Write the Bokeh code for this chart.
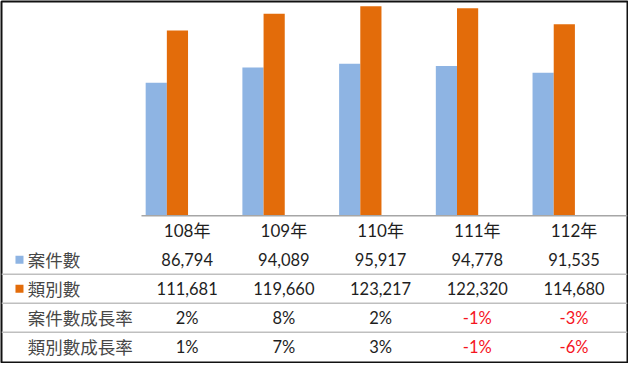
from bokeh.plotting import figure
from bokeh.models import ColumnDataSource, Range1d, Span
from bokeh.transform import dodge
from bokeh.core.properties import value
from bokeh.embed import file_html
from bokeh.resources import INLINE

# ---- data ----
years = ["108年", "109年", "110年", "111年", "112年"]
cases = [86794, 94089, 95917, 94778, 91535]
types = [111681, 119660, 123217, 122320, 114680]
growth_cases = [2, 8, 2, -1, -3]
growth_types = [1, 7, 3, -1, -6]
row_labels = ["案件數", "類別數", "案件數成長率", "類別數成長率"]

# ---- style ----
BLUE = "#8EB4E3"
ORANGE = "#E36C0A"
RED = "#F5141E"
TEXT = "#1E1E1E"
LABEL = "#474747"
GRID = "#BFBFBF"
NUM_FONT = value("Lato, 'Noto Sans CJK TC'")
CJK_FONT = value("'Noto Sans CJK TC'")
W, H = 628, 363

# layout (in reference-pixel terms, converted to data units)
UNIT = 99.5          # px per year column
COL0 = 191.0         # px centre of first column
ROW0 = 240.5         # px centre of header row
ROWH = 30.5          # px per table row
REF_W, REF_H = 644, 379
AXIS_MIN = 23534     # value at bar baseline
PX_PER_VAL = 0.002207
TOP_VAL_PX = 5.0

x_start = -COL0 / UNIT
x_end = (REF_W - COL0) / UNIT
row_top = -ROW0 / ROWH
row_bot = (REF_H - ROW0) / ROWH
vmax = max(types)
bar_end = vmax + TOP_VAL_PX / PX_PER_VAL
bar_start = vmax - (REF_H - TOP_VAL_PX) / PX_PER_VAL

p = figure(width=W, height=H, output_backend="svg", toolbar_location=None,
           x_range=Range1d(x_start, x_end),
           y_range=Range1d(row_bot, row_top),
           min_border=1)
p.extra_y_ranges = {"bars": Range1d(bar_start, bar_end)}
p.axis.visible = False
p.grid.visible = False
p.outline_line_color = "#111111"
p.outline_line_width = 2
p.background_fill_color = "white"

idx = list(range(len(years)))
src = ColumnDataSource(dict(x=idx, cases=cases, types=types,
                            base=[AXIS_MIN] * len(years)))
GROUP_SHIFT = -0.21
BW = 0.219
p.vbar(x=dodge("x", GROUP_SHIFT - BW / 2), top="cases", bottom="base", width=BW,
       source=src, y_range_name="bars", fill_color=BLUE, line_color=None)
p.vbar(x=dodge("x", GROUP_SHIFT + BW / 2), top="types", bottom="base", width=BW,
       source=src, y_range_name="bars", fill_color=ORANGE, line_color=None)

# baseline
p.segment(x0=[(144 - COL0) / UNIT], x1=[x_end], y0=[AXIS_MIN], y1=[AXIS_MIN],
          y_range_name="bars", line_color="#A6A6A6", line_width=1.5)

# row separators
for r in range(2, len(row_labels) + 1):
    p.add_layout(Span(location=r - 0.5, dimension="width", line_color=GRID,
                      line_width=1.5))

# header row
p.text(x=idx, y=[0] * len(years), text=years, text_font=NUM_FONT,
       text_font_size="17px", text_color=TEXT, text_align="center",
       text_baseline="middle")

rows = [
    [f"{v:,}" for v in cases],
    [f"{v:,}" for v in types],
    [f"{v}%" for v in growth_cases],
    [f"{v}%" for v in growth_types],
]
row_vals = [cases, types, growth_cases, growth_types]
for r, (txts, vals) in enumerate(zip(rows, row_vals), start=1):
    colors = [RED if v < 0 else TEXT for v in vals]
    p.text(x=idx, y=[r] * len(idx), text=txts, text_color=colors,
           text_font=NUM_FONT, text_font_size="16.5px", text_align="center",
           text_baseline="middle")

# row labels
LBL_X = (27 - COL0) / UNIT
p.text(x=[LBL_X] * len(row_labels), y=list(range(1, len(row_labels) + 1)),
       text=row_labels, text_font=CJK_FONT, text_font_size="17.5px",
       text_color=LABEL, text_align="left", text_baseline="middle")

# legend squares
SQ_X = (18.5 - COL0) / UNIT
p.scatter(x=[SQ_X, SQ_X], y=[1, 2], marker="square", size=8,
          fill_color=[BLUE, ORANGE], line_color=None)

open("out.html", "w").write(file_html(p, INLINE))
